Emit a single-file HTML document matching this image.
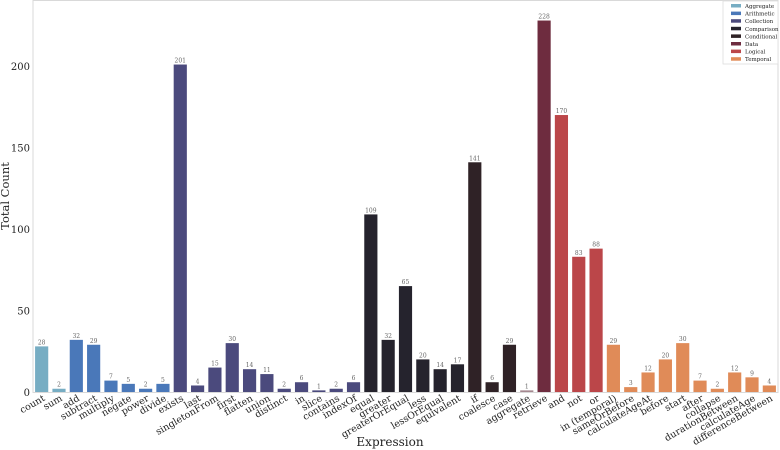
<!DOCTYPE html>
<html><head><meta charset="utf-8"><style>
html,body{margin:0;padding:0;background:#fff;}
svg{display:block;font-family:"DejaVu Serif","Liberation Serif",serif;}
</style></head><body>
<svg id="chart" width="780" height="450">
<rect x="33" y="0.5" width="745" height="392" fill="none" stroke="#d9d9d9" stroke-width="1"/>
<g id="yaxis"></g>
<g id="bars"></g>
<g id="xaxis"></g>
<text x="390" y="446" text-anchor="middle" font-size="12" fill="#222">Expression</text>
<text transform="translate(9,196) rotate(-90)" text-anchor="middle" font-size="11.5" fill="#222">Total Count</text>
<g id="legend"></g>
</svg>
<script>
const categories=["count","sum","add","subtract","multiply","negate","power","divide","exists","last","singletonFrom","first","flatten","union","distinct","in","slice","contains","indexOf","equal","greater","greaterOrEqual","less","lessOrEqual","equivalent","if","coalesce","case","aggregate","retrieve","and","not","or","in (temporal)","sameOrBefore","calculateAgeAt","before","start","after","collapse","durationBetween","calculateAge","differenceBetween"];
const values=[28,2,32,29,7,5,2,5,201,4,15,30,14,11,2,6,1,2,6,109,32,65,20,14,17,141,6,29,1,228,170,83,88,29,3,12,20,30,7,2,12,9,4];
const groups=["Aggregate","Aggregate","Arithmetic","Arithmetic","Arithmetic","Arithmetic","Arithmetic","Arithmetic","Collection","Collection","Collection","Collection","Collection","Collection","Collection","Collection","Collection","Collection","Collection","Comparison","Comparison","Comparison","Comparison","Comparison","Comparison","Conditional","Conditional","Conditional","Other","Data","Logical","Logical","Logical","Temporal","Temporal","Temporal","Temporal","Temporal","Temporal","Temporal","Temporal","Temporal","Temporal"];
const legendNames=["Aggregate","Arithmetic","Collection","Comparison","Conditional","Data","Logical","Temporal"];
const yTicks=[0,50,100,150,200];
const colors={Aggregate:"#77adc3",Arithmetic:"#4a78b9",Collection:"#4b4a7d",Comparison:"#25232d",Conditional:"#2f2226",Data:"#6e2c3f",Logical:"#bb4649",Temporal:"#e08b58",Other:"#a58890"};
const NS="http://www.w3.org/2000/svg";
const x0=33,x1=778,y0=392,yTop=0.5;
const yMax=240.3;
const band=(x1-x0)/categories.length;
const xs=i=>x0+band*i+band/2;
const ys=v=>y0-(v/yMax)*(y0-yTop);
function mk(tag,attrs,parent){const e=document.createElementNS(NS,tag);for(const k in attrs)e.setAttribute(k,attrs[k]);parent.appendChild(e);return e;}
const ya=document.getElementById('yaxis');
yTicks.forEach(t=>{const e=mk('text',{x:x0-3,y:ys(t)+4,'text-anchor':'end','font-size':'10',fill:'#222'},ya);e.textContent=t;

});
const bg=document.getElementById('bars'),xa=document.getElementById('xaxis');
const bw=band*0.76;
categories.forEach((c,i)=>{
 const v=values[i];
 const r=mk('rect',{x:xs(i)-bw/2,y:ys(v),width:bw,height:y0-ys(v),fill:colors[groups[i]]},bg);
 
 
 const l=mk('text',{x:xs(i),y:ys(v)-2,'text-anchor':'middle','font-size':'6',fill:'#666'},bg);l.textContent=v;
 
 
 const t=mk('text',{transform:`translate(${xs(i)+4},${y0+8}) rotate(-30)`,'text-anchor':'end','font-size':'9.5',fill:'#222'},xa);t.textContent=c;
 
 
});
const lg=document.getElementById('legend');
mk('rect',{x:723,y:1,width:55,height:63,fill:'#fff',stroke:'#ddd','stroke-width':0.8},lg);
legendNames.forEach((n,i)=>{
 const y=6+i*7.6;
 const s=mk('rect',{x:731,y:y-2,width:10,height:3.5,fill:colors[n]},lg);
 
 
 const t=mk('text',{x:745,y:y+2,'font-size':'5.5',fill:'#222'},lg);t.textContent=n;
 
 
});
</script>
</body></html>
